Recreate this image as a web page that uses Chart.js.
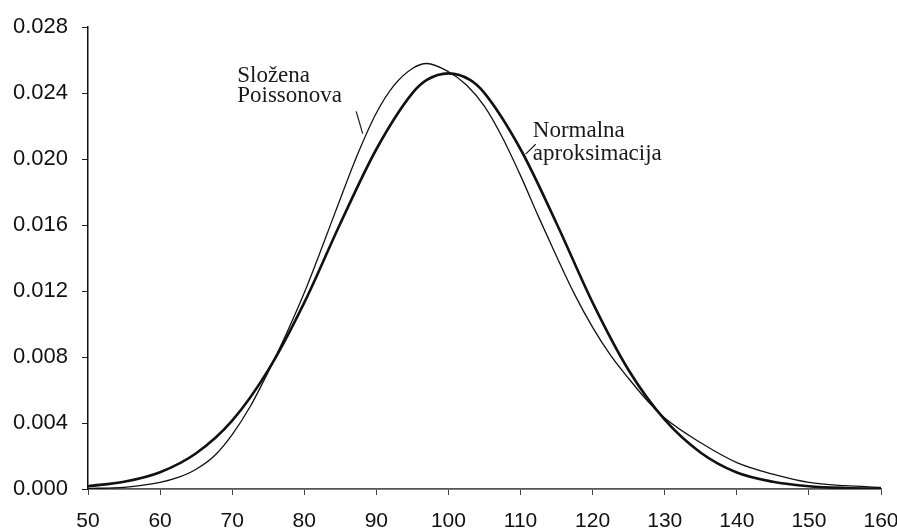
<!DOCTYPE html>
<html>
<head>
<meta charset="utf-8">
<script src="https://cdn.jsdelivr.net/npm/chart.js@4/dist/chart.umd.min.js"></script>
<style>
  body { margin: 0; background: #fff; }
  #wrap { width: 897px; height: 531px; position: relative; }
</style>
</head>
<body>
<div id="wrap"><canvas id="chart"></canvas></div>
<script>
// Složena Poissonova (thin line)
const poissonX = [50, 55, 60, 62.5, 65, 67.5, 70, 72.5, 75, 77.5, 80, 82.5, 85, 87.5, 90, 92.5, 95, 97, 100, 102.5, 105, 107.5, 110, 112.5, 115, 117.5, 120, 122.5, 125, 127.5, 130, 135, 140, 145, 150, 155, 160];
const poissonValues = [0.00003, 0.0001, 0.0004, 0.0007, 0.0012, 0.0020, 0.0033, 0.0050, 0.0071, 0.0094, 0.0119, 0.0147, 0.0176, 0.0204, 0.0228, 0.0245, 0.0255, 0.0258, 0.0253, 0.0245, 0.0232, 0.0213, 0.0190, 0.0165, 0.0141, 0.0118, 0.0098, 0.0081, 0.0067, 0.0054, 0.0043, 0.0028, 0.0016, 0.0009, 0.0004, 0.0002, 0.0001];

// Normalna aproksimacija (thick line)
const normalX = [50, 55, 60, 65, 70, 75, 80, 85, 90, 95, 97, 100, 103, 105, 110, 115, 120, 125, 130, 135, 140, 145, 150, 155, 160];
const normalValues = [0.00017, 0.00044, 0.00102, 0.00217, 0.00415, 0.00721, 0.0113, 0.0161, 0.0206, 0.0240, 0.0248, 0.0252, 0.0248, 0.0240, 0.0206, 0.0161, 0.0113, 0.0072, 0.0042, 0.0022, 0.0010, 0.00044, 0.00017, 0.00006, 0.00002];

const xTicks = [50, 60, 70, 80, 90, 100, 110, 120, 130, 140, 150, 160];
const yTicks = [0, 0.004, 0.008, 0.012, 0.016, 0.020, 0.024, 0.028];

// labels with their leader lines, in data units
const notes = [
    { lines: ['Složena', 'Poissonova'], x: 70.7, y: [0.0247, 0.02346], lead: [[87.2, 0.0229], [88.1, 0.02155]] },
    { lines: ['Normalna', 'aproksimacija'], x: 111.7, y: [0.02135, 0.01995], lead: [[112.1, 0.0209], [110.7, 0.0203]] }
];

const toPoints = (xs, ys) => xs.map((x, i) => ({ x: x, y: ys[i] }));

const notePlugin = {
    id: 'notes',
    afterDatasetsDraw(chart) {
        const ctx = chart.ctx;
        const xs = chart.scales.x, ys = chart.scales.y;
        ctx.save();
        ctx.fillStyle = '#1a1a1a';
        ctx.strokeStyle = '#1a1a1a';
        ctx.lineWidth = 1.2;
        ctx.font = '23px "Liberation Serif", serif';
        ctx.textBaseline = 'alphabetic';
        notes.forEach(n => {
            n.lines.forEach((t, i) => {
                ctx.fillText(t, xs.getPixelForValue(n.x), ys.getPixelForValue(n.y[i]));
            });
            ctx.beginPath();
            ctx.moveTo(xs.getPixelForValue(n.lead[0][0]), ys.getPixelForValue(n.lead[0][1]));
            ctx.lineTo(xs.getPixelForValue(n.lead[1][0]), ys.getPixelForValue(n.lead[1][1]));
            ctx.stroke();
        });
        ctx.restore();
    }
};

const sans = '"Liberation Sans", Arial, sans-serif';

new Chart(document.getElementById('chart'), {
    type: 'line',
    data: {
        datasets: [
            {
                label: 'Složena Poissonova',
                data: toPoints(poissonX, poissonValues),
                borderColor: '#111',
                borderWidth: 1.3,
                pointRadius: 0,
                cubicInterpolationMode: 'monotone'
            },
            {
                label: 'Normalna aproksimacija',
                data: toPoints(normalX, normalValues),
                borderColor: '#111',
                borderWidth: 2.6,
                pointRadius: 0,
                cubicInterpolationMode: 'monotone'
            }
        ]
    },
    options: {
        responsive: true,
        maintainAspectRatio: false,
        animation: false,
        layout: { padding: { top: 25, right: 16, left: 0, bottom: 0 } },
        plugins: { legend: { display: false }, tooltip: { enabled: false } },
        scales: {
            x: {
                type: 'linear',
                min: 50,
                max: 160,
                afterBuildTicks: (s) => { s.ticks = xTicks.map(v => ({ value: v })); },
                afterFit: (s) => {
                    s.height = 42;
                    // keep the plot close to the right edge like the original
                    s.paddingRight = 16;
                    s.paddingLeft = 0;
                },
                ticks: { font: { family: sans, size: 21 }, color: '#111', padding: 14, maxRotation: 0 },
                grid: { drawOnChartArea: false, tickLength: 6, color: '#444' },
                border: { color: '#555', width: 1.8 }
            },
            y: {
                min: 0,
                max: 0.028,
                afterBuildTicks: (s) => { s.ticks = yTicks.map(v => ({ value: v })); },
                afterFit: (s) => { s.width = 88; },
                ticks: { font: { family: sans, size: 22 }, color: '#111', padding: 14, callback: (v) => v.toFixed(3) },
                grid: { drawOnChartArea: false, tickLength: 6, color: '#222' },
                border: { color: '#111', width: 1.5 }
            }
        }
    },
    plugins: [notePlugin]
});
</script>
</body>
</html>
